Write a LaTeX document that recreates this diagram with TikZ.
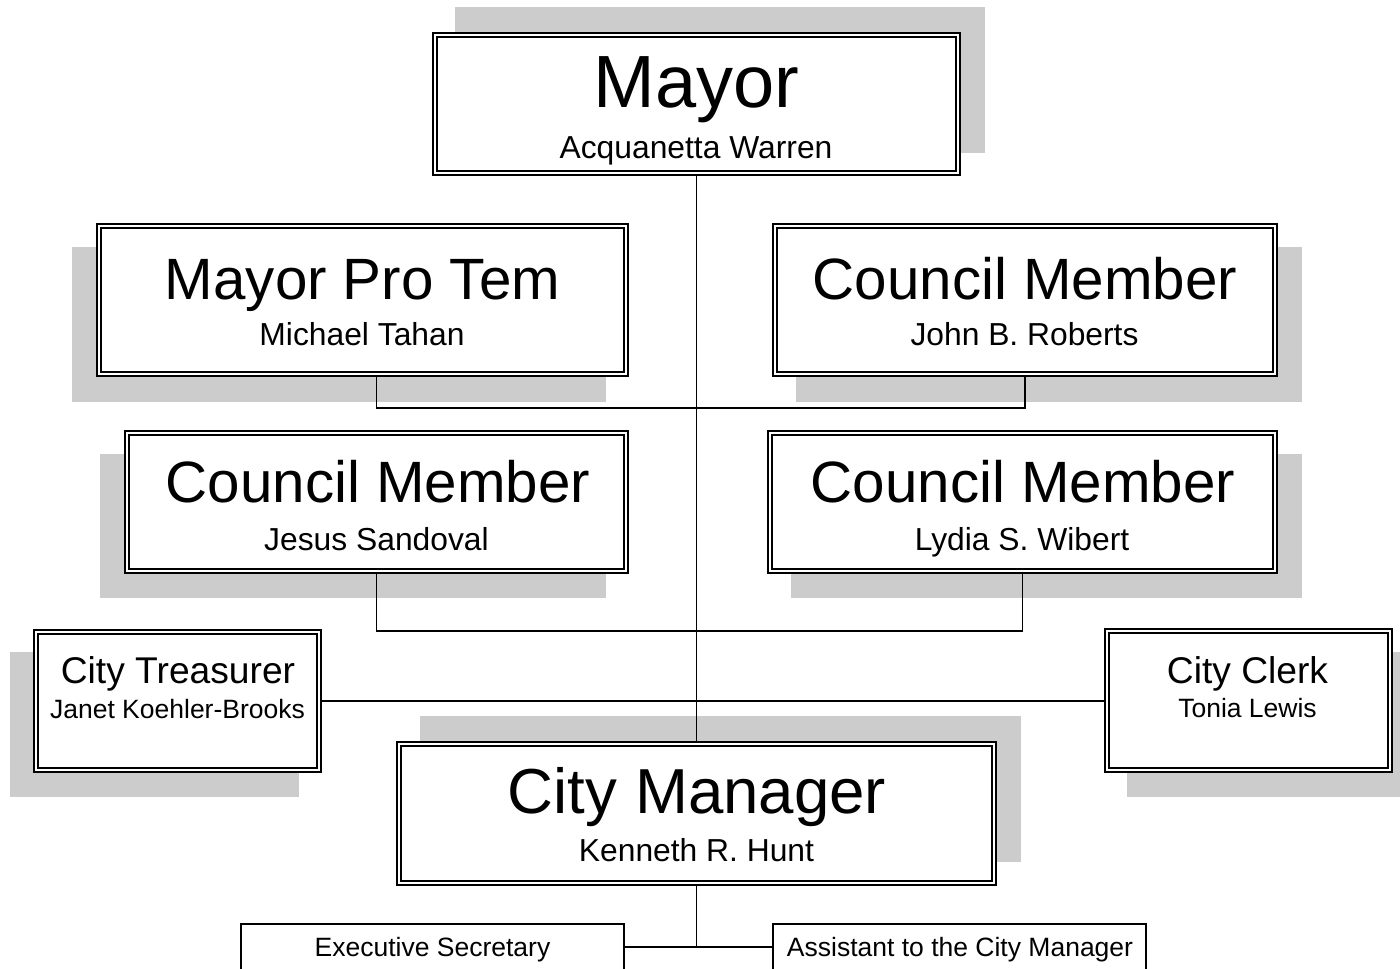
\documentclass[tikz,border=0pt]{standalone}
\usepackage{fontspec}
\setmainfont{Liberation Sans}
\usetikzlibrary{calc}
\pgfdeclarelayer{shadowlayer}
\pgfdeclarelayer{linelayer}
\pgfsetlayers{shadowlayer,linelayer,main}
\definecolor{shadowgray}{RGB}{204,204,204}
\begin{document}
\begin{tikzpicture}[x=1pt,y=-1pt,
  dbox/.style={draw, rectangle, line width=2pt, fill=white, inner sep=0pt, outer sep=0pt},
  sbox/.style={draw, rectangle, line width=1.5pt, fill=white, inner sep=0pt, outer sep=0pt},
  innerline/.style={line width=1.3pt},
  conn/.style={line width=1.7pt},
  thickconn/.style={line width=2.2pt},
  shadowfill/.style={fill=shadowgray},
  txt/.style={anchor=base, inner sep=0pt, outer sep=0pt},
  mayortitle/.style={txt, font=\fontsize{74}{80}\selectfont},
  bigtitle/.style={txt, font=\fontsize{58.3}{64}\selectfont},
  mgrtitle/.style={txt, font=\fontsize{63.6}{70}\selectfont},
  midtitle/.style={txt, font=\fontsize{37.2}{42}\selectfont},
  bigname/.style={txt, font=\fontsize{31.8}{36}\selectfont},
  smallname/.style={txt, font=\fontsize{26.5}{30}\selectfont}]
\useasboundingbox (0,0) rectangle (1400,969);
\clip (0,0) rectangle (1400,969);

% boxes
\node[dbox, minimum width=527pt, minimum height=142pt] (mayor) at (696.5,104) {};
\node[dbox, minimum width=531pt, minimum height=152pt] (mpt)   at (362.5,300) {};
\node[dbox, minimum width=504pt, minimum height=152pt] (john)  at (1025,300) {};
\node[dbox, minimum width=503pt, minimum height=142pt] (jesus) at (376.5,502) {};
\node[dbox, minimum width=509pt, minimum height=142pt] (lydia) at (1022.5,502) {};
\node[dbox, minimum width=287pt, minimum height=142pt] (treas) at (177.5,701) {};
\node[dbox, minimum width=287pt, minimum height=143pt] (clerk) at (1248.5,700.5) {};
\node[dbox, minimum width=599pt, minimum height=143pt] (cman)  at (696.5,813.5) {};
\node[sbox, minimum width=383pt, minimum height=76pt] (exec)  at (432.5,962) {};
\node[sbox, minimum width=373pt, minimum height=76pt] (asst)  at (959.5,962) {};

\foreach \n in {mayor,mpt,john,jesus,lydia,treas,clerk,cman}
  \draw[innerline] ([shift={(4pt,-4pt)}]\n.north west) rectangle ([shift={(-4pt,4pt)}]\n.south east);

% texts
\node[mayortitle] (tmayor) at (696.5,107) {Mayor};
\node[bigname] (nmayor) at (696,158) {Acquanetta Warren};
\node[bigtitle] (tmpt) at (362.5,299) {Mayor Pro Tem};
\node[bigname] (nmpt) at (362,345) {Michael Tahan};
\node[bigtitle] (tjohn) at (1025,299) {Council Member};
\node[bigname] (njohn) at (1024.5,345) {John B. Roberts};
\node[bigtitle] (tjesus) at (378,502) {Council Member};
\node[bigname] (njesus) at (376.5,550) {Jesus Sandoval};
\node[bigtitle] (tlydia) at (1023,502) {Council Member};
\node[bigname] (nlydia) at (1022,550) {Lydia S. Wibert};
\node[midtitle] (ttreas) at (178,683) {City Treasurer};
\node[smallname] (ntreas) at (177.5,718) {Janet Koehler-Brooks};
\node[midtitle] (tclerk) at (1247.5,683) {City Clerk};
\node[smallname] (nclerk) at (1247.5,717) {Tonia Lewis};
\node[mgrtitle] (tcman) at (697,813) {City Manager};
\node[bigname] (ncman) at (696.5,861) {Kenneth R. Hunt};
\node[smallname] (texec) at (432.5,956) {Executive Secretary};
\node[smallname] (tasst) at (960,956) {Assistant to the City Manager};

% junctions
\coordinate (j1) at (696.5,408);
\coordinate (j2) at (696.5,631);
\coordinate (j3) at (696.5,947);

\begin{pgfonlayer}{linelayer}
  \draw[conn] (mayor.south) -- (cman.north);
  \draw[conn] (mpt.south -| jesus.south) |- (j1) -| (john.south);
  \draw[conn] (jesus.south) |- (j2) -| (lydia.south);
  \draw[thickconn] (treas.east) -- (clerk.west |- treas.east);
  \draw[conn] (cman.south) -- (j3);
  \draw[conn] (exec.east |- j3) -- (asst.west |- j3);
\end{pgfonlayer}

\begin{pgfonlayer}{shadowlayer}
  \fill[shadowfill] (455,7) rectangle (985,153);
  \fill[shadowfill] (72,247) rectangle (606,402);
  \fill[shadowfill] (796,247) rectangle (1302,402);
  \fill[shadowfill] (100,454) rectangle (606,598);
  \fill[shadowfill] (791,454) rectangle (1302,598);
  \fill[shadowfill] (10,652) rectangle (299,797);
  \fill[shadowfill] (1127,652) rectangle (1400,797);
  \fill[shadowfill] (420,716) rectangle (1021,862);
\end{pgfonlayer}
\end{tikzpicture}
\end{document}
